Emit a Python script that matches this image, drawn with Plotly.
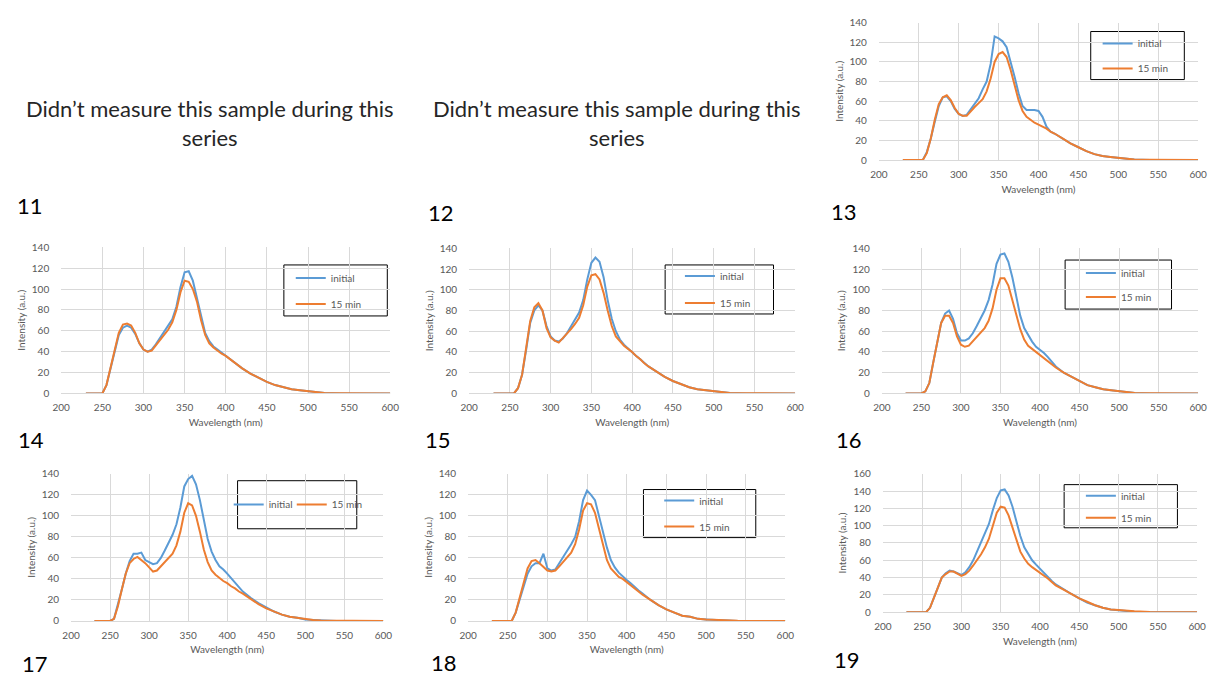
import plotly.graph_objects as go

# ---------------- data ----------------
WL = [230, 250, 255, 260, 265, 270, 275, 280, 285, 290, 295, 300, 305, 310, 315, 320,
      325, 330, 335, 340, 345, 350, 355, 360, 365, 370, 375, 380, 385, 390, 395, 400,
      405, 410, 415, 420, 430, 440, 450, 460, 470, 480, 490, 500, 510, 520, 540, 560, 600]

S13_INITIAL = [0, 0, 0, 8, 22, 39, 55, 64, 65, 60, 52, 47, 45, 46, 52, 57, 63, 72, 80, 98, 126, 124, 121, 115, 101, 85, 68, 55, 51, 51, 51, 50, 44, 34, 29, 27, 22, 17, 13, 9, 6, 4, 3, 2, 1, 0.5, 0, 0, 0]
S13_15MIN = [0, 0, 0, 7, 22, 41, 57, 64, 66, 61, 53, 47, 45, 45, 50, 54, 58, 62, 70, 83, 100, 108, 110, 105, 92, 77, 61, 50, 44, 41, 38, 36, 34, 32, 29, 27, 22, 17, 13, 9, 6, 4, 3, 2, 1, 0.5, 0.2, 0, 0]

S14_INITIAL = [0, 0, 8, 25, 42, 56, 63, 65, 63, 57, 48, 42, 40, 42, 47, 53, 58, 64, 71, 83, 102, 116, 117, 108, 92, 73, 58, 50, 45, 42, 39, 36, 33, 30, 27, 24, 19, 15, 11, 8, 6, 4, 3, 2, 1, 0.5, 0, 0, 0]
S14_15MIN = [0, 0, 8, 25, 43, 58, 66, 67, 65, 58, 48, 42, 40, 41, 46, 51, 56, 61, 68, 80, 97, 108, 107, 100, 88, 70, 56, 48, 44, 41, 38, 36, 33, 30, 27, 24, 19, 15, 11, 8, 6, 4, 3, 2, 1, 0.5, 0.2, 0, 0]

S15_INITIAL = [0, 0, 0, 5, 18, 42, 68, 80, 85, 80, 65, 55, 51, 50, 53, 58, 65, 72, 78, 90, 110, 126, 131, 127, 112, 90, 72, 60, 52, 47, 43, 40, 36, 33, 29, 26, 21, 16, 12, 9, 6, 4, 3, 2, 1, 0.5, 0, 0, 0]
S15_15MIN = [0, 0, 0, 5, 18, 44, 70, 83, 87, 80, 63, 54, 51, 49, 53, 57, 62, 67, 73, 85, 103, 114, 115, 110, 97, 80, 65, 55, 50, 46, 43, 40, 36, 33, 29, 26, 21, 16, 12, 9, 6, 4, 3, 2, 1, 0.5, 0.2, 0, 0]

S16_INITIAL = [0, 0, 2, 10, 30, 50, 68, 77, 80, 72, 58, 51, 51, 53, 58, 65, 72, 80, 90, 105, 125, 134, 135, 127, 112, 92, 75, 63, 56, 50, 45, 42, 39, 35, 31, 26, 20, 16, 12, 8, 6, 4, 3, 2, 1, 0.5, 0, 0, 0]
S16_15MIN = [0, 0, 2, 10, 30, 50, 68, 75, 75, 68, 55, 47, 45, 46, 50, 54, 58, 63, 70, 82, 100, 111, 111, 104, 90, 75, 62, 52, 46, 43, 40, 37, 34, 31, 28, 25, 20, 16, 12, 8, 6, 4, 3, 2, 1, 0.5, 0.2, 0, 0]

S17_INITIAL = [0, 0, 2, 15, 30, 45, 57, 64, 64, 65, 58, 56, 54, 55, 60, 67, 75, 82, 92, 108, 128, 135, 138, 130, 115, 95, 78, 66, 58, 52, 49, 45, 41, 37, 32, 28, 22, 17, 13, 9, 6, 4, 3, 1.5, 1, 0.5, 0, 0, 0]
S17_15MIN = [0, 0, 2, 14, 30, 45, 55, 59, 61, 58, 55, 51, 47, 48, 52, 56, 60, 64, 72, 85, 103, 112, 110, 100, 85, 68, 56, 48, 44, 41, 38, 36, 33, 31, 28, 26, 21, 16, 12, 9, 6, 4, 3, 1.5, 1, 0.5, 0.2, 0, 0]

S18_INITIAL = [0, 0, 0, 8, 20, 33, 45, 52, 55, 55, 64, 50, 48, 49, 55, 60, 67, 73, 80, 95, 115, 124, 120, 115, 100, 85, 70, 58, 51, 46, 42, 39, 36, 32, 29, 26, 20, 15, 11, 8, 5, 4, 2, 1.5, 1, 0.5, 0, 0, 0]
S18_15MIN = [0, 0, 0, 8, 22, 37, 50, 57, 58, 55, 51, 48, 47, 48, 52, 56, 60, 65, 73, 87, 105, 112, 111, 103, 88, 72, 58, 50, 46, 42, 40, 37, 34, 31, 28, 25, 20, 15, 11, 8, 5, 4, 2, 1.5, 1, 0.5, 0.2, 0, 0]

S19_INITIAL = [0, 0, 0, 5, 17, 30, 40, 45, 48, 47, 45, 43, 46, 52, 60, 70, 80, 90, 102, 118, 132, 141, 142, 135, 122, 105, 88, 75, 67, 60, 55, 50, 45, 40, 36, 32, 26, 21, 16, 11, 8, 5, 3, 2, 1, 0.5, 0, 0, 0]
S19_15MIN = [0, 0, 0, 5, 17, 30, 40, 44, 47, 47, 44, 42, 44, 48, 54, 60, 67, 75, 85, 100, 115, 122, 121, 112, 98, 82, 70, 62, 56, 52, 49, 46, 43, 39, 35, 31, 26, 21, 16, 12, 8, 5, 3, 2.5, 1.5, 1, 0.3, 0, 0]

SERIES_NAMES = ["initial", "15 min"]
X_TICKS = [200, 250, 300, 350, 400, 450, 500, 550, 600]
X_TITLE = "Wavelength (nm)"
Y_TITLE = "Intensity (a.u.)"
MISSING_TEXT = "Didn’t measure this sample during this<br>series"
PANEL_LABELS = ["11", "12", "13", "14", "15", "16", "17", "18", "19"]

# ---------------- layout helpers ----------------
W, H = 1215, 676
FONT = "Lato"
BLUE = "#5B9BD5"
ORANGE = "#ED7D31"
GRID = "#D9D9D9"
TICKC = "#595959"


def px(x):
    return x / W


def py(y):
    return 1 - y / H


# panel geometry (pixels): plot-area box, y max, legend frame, legend anchors per series, row gap
PANELS = [
    dict(init=S13_INITIAL, m15=S13_15MIN, box=(883, 16, 1207, 156), ymax=140,
         lbox=(1098, 25, 1193, 74), lpos=[(1105, 22.5)], gap=6),
    dict(init=S14_INITIAL, m15=S14_15MIN, box=(53, 245, 387, 394), ymax=140,
         lbox=(279, 263, 384, 315), lpos=[(286, 261.5)], gap=7),
    dict(init=S15_INITIAL, m15=S15_15MIN, box=(467, 246, 798, 394), ymax=140,
         lbox=(666, 263, 776, 313), lpos=[(681, 259.5)], gap=8),
    dict(init=S16_INITIAL, m15=S16_15MIN, box=(886, 246, 1207, 394), ymax=140,
         lbox=(1072, 258, 1180, 308), lpos=[(1088, 256.5)], gap=5),
    dict(init=S17_INITIAL, m15=S17_15MIN, box=(63, 476, 380, 626), ymax=140,
         lbox=(232, 483, 353, 532), lpos=[(223, 492.5), (287, 492.5)], gap=0),
    dict(init=S18_INITIAL, m15=S18_15MIN, box=(466, 476, 788, 626), ymax=140,
         lbox=(644, 492, 758, 541), lpos=[(660, 488.5)], gap=7),
    dict(init=S19_INITIAL, m15=S19_15MIN, box=(887, 476, 1206, 617), ymax=160,
         lbox=(1071, 487, 1186, 531), lpos=[(1088, 483.5)], gap=3),
]

fig = go.Figure()
layout = dict(
    width=W, height=H,
    margin=dict(l=0, r=0, t=0, b=0),
    paper_bgcolor="white", plot_bgcolor="white",
    font=dict(family=FONT, size=10, color=TICKC),
    shapes=[], annotations=[],
)

legend_count = 0


def new_legend(x, y, gap):
    global legend_count
    legend_count += 1
    name = "legend" if legend_count == 1 else f"legend{legend_count}"
    layout[name] = dict(
        x=px(x), y=py(y), xanchor="left", yanchor="top",
        bgcolor="rgba(0,0,0,0)", borderwidth=0,
        font=dict(family=FONT, size=10, color=TICKC),
        orientation="v", tracegroupgap=gap,
        itemclick=False, itemdoubleclick=False,
    )
    return name


for i, p in enumerate(PANELS):
    k = i + 1
    xa = "x" if k == 1 else f"x{k}"
    ya = "y" if k == 1 else f"y{k}"
    x0, y0, x1, y1 = p["box"]
    if len(p["lpos"]) == 1:
        lg = new_legend(p["lpos"][0][0], p["lpos"][0][1], p["gap"])
        legs = [lg, lg]
    else:
        legs = [new_legend(lx, ly, p["gap"]) for lx, ly in p["lpos"]]
    for j, (vals, col) in enumerate([(p["init"], BLUE), (p["m15"], ORANGE)]):
        fig.add_trace(go.Scatter(
            x=WL, y=vals, mode="lines", name=SERIES_NAMES[j],
            line=dict(color=col, width=2), xaxis=xa, yaxis=ya,
            legend=legs[j], legendgroup=f"{k}-{j}", showlegend=True,
        ))
    xkey = "xaxis" if k == 1 else f"xaxis{k}"
    ykey = "yaxis" if k == 1 else f"yaxis{k}"
    layout[xkey] = dict(
        domain=[px(x0), px(x1)], anchor=ya, range=[200, 600],
        tickvals=X_TICKS, showgrid=True, gridcolor=GRID, gridwidth=1,
        showline=True, linecolor=GRID, linewidth=1, zeroline=False,
        ticks="outside", ticklen=5, tickcolor="rgba(0,0,0,0)",
        tickfont=dict(family=FONT, size=10, color=TICKC),
        title=dict(text=X_TITLE, font=dict(family=FONT, size=10, color=TICKC), standoff=6),
        fixedrange=True,
    )
    layout[ykey] = dict(
        domain=[py(y1), py(y0)], anchor=xa, range=[0, p["ymax"]], dtick=20,
        showgrid=True, gridcolor=GRID, gridwidth=1, showline=False, zeroline=False,
        ticks="outside", ticklen=9, tickcolor="rgba(0,0,0,0)",
        tickfont=dict(family=FONT, size=10, color=TICKC),
        title=dict(text=Y_TITLE, font=dict(family=FONT, size=10, color=TICKC), standoff=4),
        fixedrange=True,
    )
    bx0, by0, bx1, by1 = p["lbox"]
    layout["shapes"].append(dict(
        type="rect", xref="paper", yref="paper",
        x0=px(bx0), x1=px(bx1), y0=py(by1), y1=py(by0),
        line=dict(color="#000000", width=1), fillcolor="white", layer="below",
    ))

# "Didn't measure" texts
for cx in (204, 617):
    layout["annotations"].append(dict(
        text=MISSING_TEXT, x=px(cx), y=py(118), xref="paper", yref="paper",
        xanchor="center", yanchor="middle", showarrow=False, align="center",
        font=dict(family=FONT, size=22, color="#262626"),
    ))

# panel numbers
NUM_POS = [(6, 202), (423, 210), (832, 208), (7, 441), (420, 441), (837, 441),
           (11, 669), (426, 668), (835, 665)]
for lab, (nx, ny) in zip(PANEL_LABELS, NUM_POS):
    layout["annotations"].append(dict(
        text=lab, x=px(nx), y=py(ny), xref="paper", yref="paper",
        xanchor="left", yanchor="middle", showarrow=False,
        font=dict(family=FONT, size=22, color="#000000"),
    ))

fig.update_layout(**layout)
fig.write_html("out.html")
